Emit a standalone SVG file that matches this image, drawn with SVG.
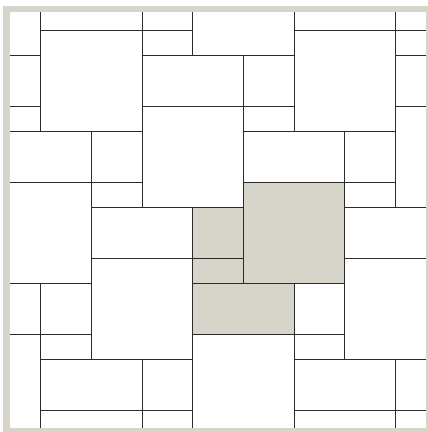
<svg xmlns="http://www.w3.org/2000/svg" width="428" height="432" viewBox="0 0 428 432">
<style>
.t{fill:#ffffff;stroke:#2b2b2b;stroke-width:1}
.g{fill:#d7d4c9;stroke:#2b2b2b;stroke-width:1}
</style>
<defs>
<clipPath id="inner"><rect x="10" y="12" width="416" height="416"/></clipPath>
</defs>
<rect x="0" y="0" width="428" height="432" fill="#ffffff"/>
<rect id="frame" x="3" y="6" width="440" height="440" fill="#d7d4c9"/>
<rect x="10" y="12" width="416" height="416" fill="#ffffff"/>
<g id="tiles" clip-path="url(#inner)">
<g id="r1"><rect class="t" x="-10.5" y="4.5" width="51" height="51"/></g>
<g id="r2"><rect class="t" x="40.5" y="4.5" width="102" height="26"/></g>
<g id="r3"><rect class="t" x="142.5" y="4.5" width="50" height="26"/></g>
<g id="r4"><rect class="t" x="142.5" y="30.5" width="50" height="25"/></g>
<g id="r5"><rect class="t" x="192.5" y="4.5" width="102" height="51"/></g>
<g id="r6"><rect class="t" x="294.5" y="4.5" width="101" height="26"/></g>
<g id="r7"><rect class="t" x="395.5" y="4.5" width="51" height="26"/></g>
<g id="r8"><rect class="t" x="395.5" y="30.5" width="51" height="25"/></g>
<g id="s1"><rect class="t" x="40.5" y="30.5" width="102" height="101"/></g>
<g id="s2"><rect class="t" x="294.5" y="30.5" width="101" height="101"/></g>
<g id="r9"><rect class="t" x="-10.5" y="55.5" width="51" height="51"/></g>
<g id="r10"><rect class="t" x="-61.5" y="106.5" width="102" height="25"/></g>
<g id="r11"><rect class="t" x="142.5" y="55.5" width="101" height="51"/></g>
<g id="r12"><rect class="t" x="243.5" y="55.5" width="51" height="51"/></g>
<g id="s3"><rect class="t" x="142.5" y="106.5" width="101" height="101"/></g>
<g id="r13"><rect class="t" x="243.5" y="106.5" width="51" height="25"/></g>
<g id="r14"><rect class="t" x="395.5" y="55.5" width="51" height="51"/></g>
<g id="s4"><rect class="t" x="395.5" y="106.5" width="101" height="101"/></g>
<g id="r15"><rect class="t" x="-10.5" y="131.5" width="102" height="51"/></g>
<g id="r16"><rect class="t" x="91.5" y="131.5" width="51" height="51"/></g>
<g id="r17"><rect class="t" x="91.5" y="182.5" width="51" height="25"/></g>
<g id="s5"><rect class="t" x="-10.5" y="182.5" width="102" height="101"/></g>
<g id="r18"><rect class="t" x="243.5" y="131.5" width="101" height="51"/></g>
<g id="r19"><rect class="t" x="344.5" y="131.5" width="51" height="51"/></g>
<g id="r20"><rect class="t" x="344.5" y="182.5" width="51" height="25"/></g>
<g id="r21"><rect class="t" x="91.5" y="207.5" width="101" height="51"/></g>
<g id="g1"><rect class="g" x="192.5" y="207.5" width="51" height="51"/></g>
<g id="g2"><rect class="g" x="192.5" y="258.5" width="51" height="25"/></g>
<g id="g3"><rect class="g" x="243.5" y="182.5" width="101" height="101"/></g>
<g id="r22"><rect class="t" x="344.5" y="207.5" width="102" height="51"/></g>
<g id="s6"><rect class="t" x="344.5" y="258.5" width="102" height="101"/></g>
<g id="s7"><rect class="t" x="91.5" y="258.5" width="101" height="101"/></g>
<g id="r23"><rect class="t" x="-10.5" y="283.5" width="51" height="51"/></g>
<g id="r24"><rect class="t" x="40.5" y="283.5" width="51" height="51"/></g>
<g id="r25"><rect class="t" x="40.5" y="334.5" width="51" height="25"/></g>
<g id="s8"><rect class="t" x="-61.5" y="334.5" width="102" height="101"/></g>
<g id="g4"><rect class="g" x="192.5" y="283.5" width="102" height="51"/></g>
<g id="r26"><rect class="t" x="294.5" y="283.5" width="50" height="51"/></g>
<g id="r27"><rect class="t" x="294.5" y="334.5" width="50" height="25"/></g>
<g id="s9"><rect class="t" x="192.5" y="334.5" width="102" height="101"/></g>
<g id="r28"><rect class="t" x="40.5" y="359.5" width="102" height="51"/></g>
<g id="r29"><rect class="t" x="142.5" y="359.5" width="50" height="51"/></g>
<g id="r30"><rect class="t" x="40.5" y="410.5" width="102" height="25"/></g>
<g id="r31"><rect class="t" x="142.5" y="410.5" width="50" height="25"/></g>
<g id="r32"><rect class="t" x="294.5" y="359.5" width="101" height="51"/></g>
<g id="r33"><rect class="t" x="395.5" y="359.5" width="51" height="51"/></g>
<g id="r34"><rect class="t" x="294.5" y="410.5" width="101" height="25"/></g>
<g id="r35"><rect class="t" x="395.5" y="410.5" width="51" height="25"/></g>
</g>
</svg>
